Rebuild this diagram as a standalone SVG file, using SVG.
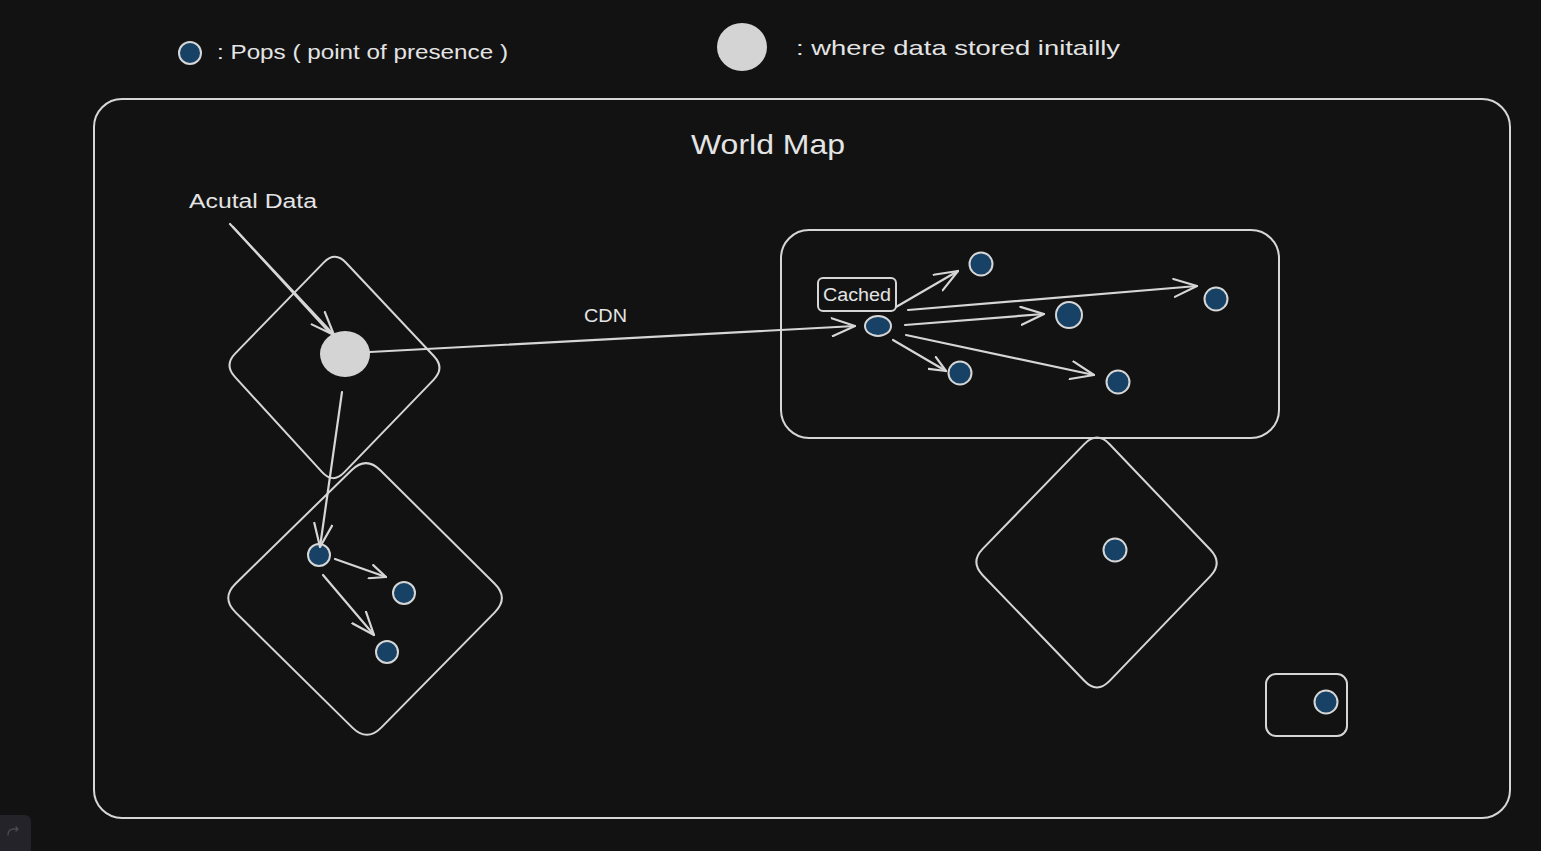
<svg xmlns="http://www.w3.org/2000/svg" width="1541" height="851" viewBox="0 0 1541 851">
<style>
.bg{fill:#121212}
.sh{fill:none;stroke:#d6d6d6;stroke-width:2;stroke-linejoin:round;stroke-linecap:round}
.pop{fill:#174266;stroke:#d6d6d6;stroke-width:2}
.data{fill:#d4d4d4}
.ln{fill:none;stroke:#d6d6d6;stroke-width:2.2;stroke-linecap:round}
.t{fill:#e4e4e4;font-family:"Liberation Sans",Arial,sans-serif}
</style>
<defs>
<marker id="ah" viewBox="0 0 25 20" refX="24" refY="10" markerWidth="25" markerHeight="20" markerUnits="userSpaceOnUse" orient="auto">
<path d="M1,1 L24,10 L1,19" fill="none" stroke="#d6d6d6" stroke-width="2.2" stroke-linecap="round" stroke-linejoin="round"/>
</marker>
<marker id="ahs" viewBox="0 0 18 16" refX="17" refY="8" markerWidth="18" markerHeight="16" markerUnits="userSpaceOnUse" orient="auto">
<path d="M1,1 L17,8 L1,15" fill="none" stroke="#d6d6d6" stroke-width="2.2" stroke-linecap="round" stroke-linejoin="round"/>
</marker>
</defs>
<rect class="bg" x="0" y="0" width="1541" height="851"/>

<g id="legend">
<circle class="pop" cx="190" cy="53" r="11"/>
<text class="t" x="217" y="59" font-size="20" textLength="291" lengthAdjust="spacingAndGlyphs">: Pops ( point of presence )</text>
<ellipse class="data" cx="742" cy="47" rx="25" ry="24"/>
<text class="t" x="796" y="55" font-size="21" textLength="324" lengthAdjust="spacingAndGlyphs">: where data stored initailly</text>
</g>

<g id="world-map">
<rect class="sh" x="94" y="99" width="1416" height="719" rx="28"/>
<text class="t" x="691" y="154" font-size="28" textLength="154" lengthAdjust="spacingAndGlyphs">World Map</text>
</g>

<g id="actual-data-label">
<text class="t" x="189" y="208" font-size="20" textLength="128" lengthAdjust="spacingAndGlyphs">Acutal Data</text>
</g>

<g id="origin-region">
<path class="sh" d="M346,262.7 L434,356.3 Q445,368 433.8,379.6 L344.2,472.4 Q333,484 322.1,472.1 L234.9,376.9 Q224,365 235.1,353.6 L323.9,262.4 Q335,251 346,262.7 Z"/>
<ellipse class="data" cx="345" cy="354" rx="25" ry="23"/>
</g>

<g id="region-2">
<path class="sh" d="M380.3,470.2 L494.7,583.8 Q509,598 494.8,612.4 L381.2,727.6 Q367,742 352.4,727.6 L235.6,612.4 Q221,598 235.5,583.8 L351.5,470.2 Q366,456 380.3,470.2 Z"/>
<circle class="pop" cx="319" cy="555" r="11"/>
<circle class="pop" cx="404" cy="593" r="11"/>
<circle class="pop" cx="387" cy="652" r="11"/>
</g>

<g id="cdn-region">
<rect class="sh" x="781" y="230" width="498" height="208" rx="28"/>
<g id="cached">
<rect class="sh" x="818" y="278" width="78" height="33" rx="5"/>
<text class="t" x="823" y="301" font-size="18" textLength="68" lengthAdjust="spacingAndGlyphs">Cached</text>
</g>
<ellipse class="pop" cx="878" cy="326" rx="13" ry="10"/>
<circle class="pop" cx="981" cy="264" r="11.5"/>
<circle class="pop" cx="1069" cy="315" r="13"/>
<circle class="pop" cx="1216" cy="299" r="11.5"/>
<circle class="pop" cx="960" cy="373" r="11.5"/>
<circle class="pop" cx="1118" cy="382" r="11.5"/>
</g>

<g id="region-3">
<path class="sh" d="M1109.6,444.2 L1210.4,549.8 Q1223,563 1210.4,576.1 L1109.6,680.9 Q1097,694 1084.3,680.8 L982.7,575.2 Q970,562 982.7,548.9 L1084.3,444.1 Q1097,431 1109.6,444.2 Z"/>
<circle class="pop" cx="1115" cy="550" r="11.5"/>
</g>

<g id="region-4">
<rect class="sh" x="1266" y="674" width="81" height="62" rx="10"/>
<circle class="pop" cx="1326" cy="702" r="11.5"/>
</g>

<g id="connectors">
<path class="ln" d="M230,224 L334,335" marker-end="url(#ah)"/>
<path class="ln" d="M233,227 L330,333" stroke-width="1.2"/>
<path class="ln" d="M370,352 L855,326" marker-end="url(#ah)"/>
<text class="t" x="584" y="322" font-size="18" textLength="43" lengthAdjust="spacingAndGlyphs">CDN</text>
<path class="ln" d="M342,392 L320,547" marker-end="url(#ah)"/>
<path class="ln" d="M335,559 L386,577" marker-end="url(#ahs)"/>
<path class="ln" d="M323,575 L374,635" stroke-width="3" marker-end="url(#ah)"/>
<path class="ln" d="M896,307 L958,271" marker-end="url(#ah)"/>
<path class="ln" d="M908,310 L1197,286" marker-end="url(#ah)"/>
<path class="ln" d="M905,325 L1044,314" stroke-width="3" marker-end="url(#ah)"/>
<path class="ln" d="M906,335 L1094,375" stroke-width="3" marker-end="url(#ah)"/>
<path class="ln" d="M893,340 L946,371" marker-end="url(#ahs)"/>
</g>

<g id="ui-button">
<rect x="-8" y="815" width="39" height="40" rx="6" fill="#232329"/>
<path d="M8,835 Q8,829 14,829 L18,829 M16,827 L18,829 L16,831" fill="none" stroke="#4a4a52" stroke-width="1.3" stroke-linecap="round"/>
</g>
</svg>
